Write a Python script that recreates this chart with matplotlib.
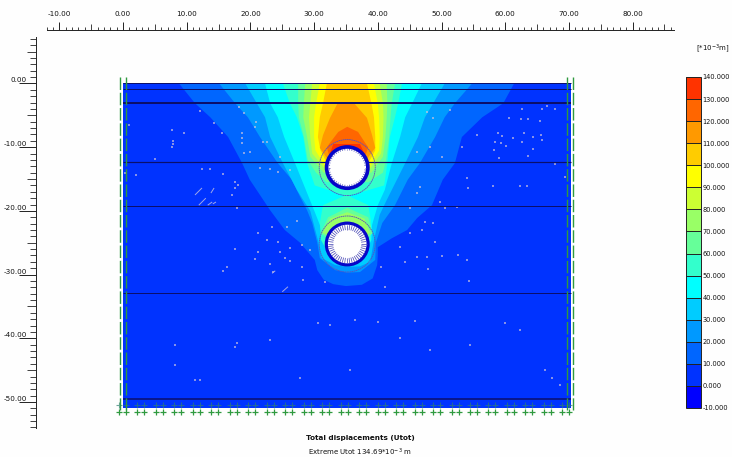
import matplotlib
matplotlib.use("Agg")
import matplotlib.pyplot as plt
from matplotlib.colors import ListedColormap, BoundaryNorm
from matplotlib.colorbar import ColorbarBase
from matplotlib.collections import LineCollection
from matplotlib.patches import Circle
import numpy as np

plt.rcParams['font.family'] = ['DejaVu Sans']
plt.rcParams['mathtext.default'] = 'regular'

# colour scale, bottom to top
LEVELS = [-10, 0, 10, 20, 30, 40, 50, 60, 70, 80, 90, 100, 110, 120, 130, 140]
BAND_COLORS = ['#0000ff', '#0033ff', '#0066ff', '#0099ff', '#00ccff', '#00ffff', '#33ffcc',
               '#66ff99', '#99ff66', '#ccff33', '#ffff00', '#ffcc00', '#ff9900', '#ff6600', '#ff3300']

# model extent and soil layer boundaries (m)
MODEL_X = [0.0, 70.3]
MODEL_Y = [0.0, -51.0]
LAYERS = [0.0, -0.9, -3.0, -12.4, -19.2, -32.9, -49.5]
LAYER_WIDTHS = [1.0, 1.0, 2.0, 1.2, 1.0, 1.0, 1.5]

# contour outlines of total displacement (x, y in m)
U10_X = [8.8, 11.3, 13.7, 16.5, 18.7, 19.9, 23.1, 25.4, 27.8, 30.1, 30.5, 31.5, 33.0, 35.0, 37.5, 39.2, 39.9, 40.0, 40.0, 42.2, 44.6, 46.2, 48.5, 50.2, 52.1, 53.2, 56.4, 59.7, 61.4]
U10_Y = [0, -3.1, -5.3, -8.4, -12.5, -15.1, -19.9, -23.0, -25.0, -27.7, -29.3, -30.8, -31.5, -31.8, -31.6, -30.6, -28.5, -27.0, -25.7, -24.3, -23.0, -21.1, -19.1, -15.1, -12.5, -8.4, -5.3, -3.1, 0]
U20_X = [15.1, 17.6, 19.6, 21.5, 24.3, 26.5, 27.8, 28.9, 29.7, 30.5, 30.9, 33.3, 35.2, 37.2, 39.6, 39.7, 40.7, 42.7, 44.7, 46.6, 49.0, 50.5, 52.1, 54.8]
U20_Y = [0, -3.1, -5.3, -8.4, -12.5, -15.1, -17.8, -19.9, -21.9, -25.0, -27.4, -29.3, -29.7, -29.6, -27.7, -25.0, -21.9, -19.1, -15.1, -12.5, -8.4, -5.3, -3.1, 0]
U30_X = [19.2, 21.0, 22.3, 23.1, 25.1, 27.3, 28.1, 29.4, 30.6, 31.2, 33.3, 35.2, 37.2, 38.8, 39.4, 40.3, 41.4, 42.2, 44.3, 46.3, 47.4, 48.7, 50.5]
U30_Y = [0, -3.1, -5.3, -8.4, -12.5, -16.7, -18.0, -20.0, -24.6, -27.4, -28.5, -28.8, -28.7, -28.0, -24.6, -20.6, -18.3, -16.7, -12.5, -8.4, -5.3, -3.1, 0]
U40_X = [22.3, 23.1, 24.3, 25.3, 27.0, 28.7, 30.0, 30.9, 31.9, 33.3, 35.2, 37.5, 39.0, 39.1, 40.0, 41.1, 42.2, 43.5, 44.3, 45.4, 46.9]
U40_Y = [0, -3.1, -5.3, -8.4, -12.5, -16.7, -19.9, -22.2, -26.1, -27.7, -28.2, -27.4, -24.6, -22.2, -19.1, -16.7, -12.5, -8.4, -5.3, -3.1, 0]

U50_LOW_X = [35.1, 31.4, 30.9, 31.1, 32.0, 35.1, 38.1, 38.9, 38.9, 38.5]
U50_LOW_Y = [-17.5, -19.1, -21.9, -24.6, -26.2, -26.8, -26.2, -24.6, -21.4, -19.1]
U60_LOW_X = [35.2, 32.2, 31.0, 32.5, 38.0, 39.2, 38.5]
U60_LOW_Y = [-19.5, -21.0, -23.5, -24.5, -24.5, -23.5, -21.0]
U70_LOW_X = [35.2, 32.5, 31.3, 32.5, 38.0, 38.8, 37.9]
U70_LOW_Y = [-20.2, -21.2, -23.4, -24.0, -24.0, -23.4, -21.2]

U50_X = [25.1, 26.2, 27.3, 28.3, 28.9, 30.1, 35.2, 41.0, 41.5, 41.9, 42.7, 43.2, 43.8]
U50_Y = [0, -3.1, -5.3, -8.4, -12.5, -16.0, -17.7, -16.0, -12.5, -8.4, -5.3, -3.1, 0]
U60_X = [27.5, 27.5, 27.6, 28.4, 29.0, 30.3, 32.0, 38.5, 40.8, 41.3, 41.8, 42.0, 42.2, 42.7]
U60_Y = [0, -3.1, -5.3, -8.4, -12.0, -14.0, -15.5, -15.5, -14.0, -12.0, -8.4, -5.3, -3.1, 0]
U70_X = [28.6, 28.4, 28.3, 28.9, 29.4, 31.5, 39.0, 40.8, 41.2, 41.4, 41.5, 41.4]
U70_Y = [0, -3.1, -5.3, -8.4, -11.5, -14.0, -14.0, -11.5, -8.4, -5.3, -3.1, 0]
U80_X = [29.7, 29.4, 29.2, 29.4, 29.7, 31.8, 38.7, 40.5, 40.8, 40.9, 40.8, 40.3]
U80_Y = [0, -3.1, -5.3, -8.4, -11.0, -13.5, -13.5, -11.0, -8.4, -5.3, -3.1, 0]
U90_X = [30.9, 30.3, 30.0, 30.0, 30.2, 31.9, 38.6, 40.2, 40.3, 40.2, 40.0, 39.4]
U90_Y = [0, -3.1, -5.3, -8.4, -10.5, -13.2, -13.2, -10.5, -8.4, -5.3, -3.1, 0]
U100_X = [32.0, 31.4, 30.9, 30.6, 31.0, 32.0, 38.5, 39.6, 39.6, 39.4, 39.0, 38.3]
U100_Y = [0, -3.1, -5.3, -8.4, -10.5, -12.5, -12.5, -10.5, -8.4, -5.3, -3.1, 0]
U110_X = [33.8, 32.5, 31.4, 30.9, 32.2, 38.2, 39.6, 39.1, 38.3, 36.1]
U110_Y = [-2.9, -5.4, -8.1, -10.1, -12.0, -12.0, -10.1, -8.1, -5.4, -2.9]
U120_X = [35.2, 33.8, 32.5, 32.0, 32.4, 38.0, 38.5, 38.0, 36.9]
U120_Y = [-6.8, -7.6, -9.3, -10.0, -11.5, -11.5, -10.0, -9.3, -7.6]
U130_X = [33.0, 32.5, 37.9, 37.2]
U130_Y = [-9.5, -11.0, -11.0, -9.5]

# (level, outline x, outline y) in drawing order
CONTOURS = [(10, U10_X, U10_Y), (20, U20_X, U20_Y), (30, U30_X, U30_Y), (40, U40_X, U40_Y),
            (50, U50_LOW_X, U50_LOW_Y), (60, U60_LOW_X, U60_LOW_Y), (70, U70_LOW_X, U70_LOW_Y),
            (50, U50_X, U50_Y), (60, U60_X, U60_Y), (70, U70_X, U70_Y), (80, U80_X, U80_Y),
            (90, U90_X, U90_Y), (100, U100_X, U100_Y), (110, U110_X, U110_Y),
            (120, U120_X, U120_Y), (130, U130_X, U130_Y)]

# tunnels: centre and radii (m)
TUNNEL_X = [35.2, 35.2]
TUNNEL_Y = [-13.2, -25.2]
R_OUTER = [4.4, 4.4]
R_LINING = [3.53, 3.53]
R_HATCH = [2.95, 3.03]
R_VOID = [2.72, 2.2]

# stress point specks (m)
SPECK_X = [7.7, 9.6, 7.8, 7.8, 7.7, 0.9, 5.0, 0.3, 2.0, 12.1, 14.3, 15.5, 18.2, 19.0, 20.9, 20.7, 18.7, 18.7, 18.7, 19.0,
           19.9, 22.0, 22.6, 21.5, 23.1, 24.3, 26.2, 12.4, 13.7, 15.7, 17.6, 18.1, 24.6,
           66.6, 67.8, 62.6, 65.8, 60.6, 62.5, 63.6, 65.5, 58.9, 59.5, 61.2, 63.0, 64.4, 65.6, 65.8, 58.4, 59.3, 62.6,
           60.1, 58.2, 64.4, 63.6, 59.0, 53.2, 55.6, 48.7, 51.3, 47.7, 46.2, 48.2, 50.1, 54.0, 58.1, 62.3, 63.4, 54.2,
           46.6, 69.4, 67.8,
           17.6, 17.1, 17.9, 21.2, 23.4, 22.6, 24.3, 26.2, 28.1, 29.4, 21.2, 24.6, 20.7, 23.1, 25.4, 26.2, 28.1, 16.3,
           15.7, 17.6, 27.3, 25.7, 23.5, 28.3, 31.7,
           46.2, 49.8, 50.5, 52.4, 45.1, 47.4, 48.7, 46.9, 45.1, 49.0, 43.5, 46.2, 47.7, 50.1, 52.6, 54.0, 47.9, 40.5,
           44.3, 54.3, 41.1,
           30.6, 32.5, 36.4, 40.0, 45.8, 60.0, 62.3, 17.9, 8.2, 23.1, 11.3, 66.2, 67.3, 68.6, 54.5, 48.2, 27.8, 35.6,
           8.2, 12.1, 43.5, 17.6]
SPECK_Y = [-7.3, -7.8, -9.0, -9.5, -10.0, -6.5, -11.9, -14.0, -14.4, -4.3, -6.2, -7.8, -3.7, -4.6, -6.0, -6.8, -7.8, -8.6, -9.3, -10.9,
           -10.8, -9.2, -9.2, -13.3, -13.4, -13.9, -13.6, -13.4, -13.4, -14.2, -15.5, -15.9, -11.5,
           -3.5, -4.0, -4.0, -4.0, -5.4, -5.6, -5.6, -5.9, -7.8, -8.2, -8.6, -7.8, -8.4, -8.1, -8.9, -9.2, -9.3, -9.2,
           -9.8, -10.4, -10.3, -11.4, -11.7, -10.0, -8.1, -5.4, -4.2, -4.5, -10.8, -10.0, -11.5, -14.8, -16.1, -16.1, -16.1, -16.4,
           -16.2, -14.7, -12.6,
           -16.4, -17.5, -19.5, -23.5, -22.5, -24.6, -24.9, -25.8, -25.4, -26.1, -26.5, -26.5, -27.6, -28.3, -27.4, -27.9, -28.8, -28.8,
           -29.4, -26.0, -21.6, -22.5, -29.6, -30.8, -31.2,
           -17.2, -18.6, -19.5, -19.4, -19.5, -21.7, -21.9, -23.0, -23.5, -24.9, -25.7, -27.2, -27.2, -27.1, -26.9, -27.7, -29.1, -28.8,
           -28.0, -31.0, -31.9,
           -37.6, -37.9, -37.1, -37.4, -37.3, -37.6, -38.7, -40.7, -41.0, -40.3, -46.5, -45.0, -46.2, -47.3, -41.0, -41.8, -46.2, -45.0,
           -44.2, -46.5, -40.0, -41.4]

# longer diagonal strokes: x0, y0, x1, y1 (m)
STROKE_X0 = [11.3, 13.8, 11.9, 13.3, 14.1, 25.0, 23.4]
STROKE_Y0 = [-17.5, -17.2, -19.1, -19.1, -18.9, -32.7, -29.8]
STROKE_X1 = [12.4, 14.3, 13.0, 14.0, 14.6, 25.9, 23.9]
STROKE_Y1 = [-16.4, -16.4, -18.0, -18.6, -18.6, -31.9, -29.4]

# rulers
X_MAJOR = [-10, 0, 10, 20, 30, 40, 50, 60, 70, 80]
Y_MAJOR = [0, -10, -20, -30, -40, -50]

# fixities along the base and sides
FIX_COLOR = '#2f9a3f'
N_FIX = 25

SCALE = 6.37  # pixels per metre
X0_PX, Y0_PX = 123.0, 83.5
W, H = 732, 457
TEXT_COLOR = '#111111'

fig = plt.figure(figsize=(W / 100, H / 100), dpi=100, facecolor='#fefefe')
ax = fig.add_axes([0, 0, 1, 1], facecolor='none')
ax.set_xlim(-X0_PX / SCALE, (W - X0_PX) / SCALE)
ax.set_ylim((Y0_PX - H) / SCALE, Y0_PX / SCALE)

# soil body and displacement bands
ax.fill_between(MODEL_X, MODEL_Y[1], MODEL_Y[0], color=BAND_COLORS[1], lw=0, zorder=1)
for level, xs, ys in CONTOURS:
    ax.fill(xs, ys, color=BAND_COLORS[LEVELS.index(level)], lw=0, zorder=2)

# specks
ax.scatter(SPECK_X, SPECK_Y, s=1.0, marker='s', color='#cfc4dc', alpha=0.65, lw=0, zorder=3)
strokes = [[(a, b), (c, d)] for a, b, c, d in zip(STROKE_X0, STROKE_Y0, STROKE_X1, STROKE_Y1)]
ax.add_collection(LineCollection(strokes, colors='#a0a8e8', linewidths=0.7, zorder=3))

# layer lines
for y, lw in zip(LAYERS, LAYER_WIDTHS):
    ax.plot(MODEL_X, [y, y], color='#0b0f6b', lw=lw * 0.72, solid_capstyle='butt', zorder=4)

# tunnels
for i in range(len(TUNNEL_X)):
    c = (TUNNEL_X[i], TUNNEL_Y[i])
    ax.add_patch(Circle(c, R_OUTER[i], fill=False, ec='#5a4fc0', lw=0.6, ls=(0, (2, 0.6)), zorder=5))
    ax.add_patch(Circle(c, R_LINING[i], fc='#0606c8', ec='none', zorder=6))
    ax.add_patch(Circle(c, R_HATCH[i], fc='#ffffff', ec='none', zorder=7))
    ang = np.deg2rad(np.arange(0, 360, 7.5))
    spokes = [[(c[0] + R_VOID[i] * np.cos(a), c[1] + R_VOID[i] * np.sin(a)),
               (c[0] + R_HATCH[i] * np.cos(a), c[1] + R_HATCH[i] * np.sin(a))] for a in ang]
    ax.add_collection(LineCollection(spokes, colors='#5050b8', linewidths=0.55, zorder=8))

# fixities
fix_step = 2.9
fix_x = [v for k in range(N_FIX) for v in (-0.63 + k * fix_step, 0.47 + k * fix_step)]
ax.plot(fix_x, [-50.4] * len(fix_x), ls='', marker='+', ms=4, mew=0.8, color='#2f7f70', alpha=0.7, zorder=5)
ax.plot(fix_x, [-51.5] * len(fix_x), ls='', marker='+', ms=4, mew=0.9, color=FIX_COLOR, zorder=5)
for x in (-0.47, 0.47, 69.7, 70.7):
    ax.plot([x, x], [1.0, -51.2], color=FIX_COLOR, lw=1.0, ls=(0, (9, 2)), zorder=5)

# rulers
for name in ('bottom', 'right'):
    ax.spines[name].set_visible(False)
ax.spines['top'].set_position(('data', (Y0_PX - 30) / SCALE))
ax.spines['left'].set_position(('data', (36 - X0_PX) / SCALE))
ax.spines['top'].set_bounds(-11.9, 86.5)
ax.spines['left'].set_bounds(-54.1, 7.3)
for s in ('top', 'left'):
    ax.spines[s].set_linewidth(0.7)
    ax.spines[s].set_color('#222222')

ax.xaxis.tick_top()
ax.set_xticks(X_MAJOR)
ax.set_xticklabels(['%.2f' % v for v in X_MAJOR], fontsize=5.2, color=TEXT_COLOR)
x_minor = np.arange(-12, 87)
ax.set_xticks(x_minor, minor=True)
ax.tick_params(axis='x', which='major', length=5.8, width=0.7, pad=3.2, color='#222222')
ax.tick_params(axis='x', which='minor', length=2.5, width=0.6, color='#222222')
for t, v in zip(ax.xaxis.get_minor_ticks(), ax.xaxis.get_minorticklocs()):
    if round(v) % 5 == 0:
        t.tick2line.set_markersize(4.3)

ax.set_yticks(Y_MAJOR)
ax.set_yticklabels(['%.2f' % v for v in Y_MAJOR], fontsize=5.2, color=TEXT_COLOR, va='bottom')
y_minor = np.arange(-54, 8)
ax.set_yticks(y_minor, minor=True)
ax.tick_params(axis='y', which='major', length=12.2, width=0.7, pad=-5.8, color='#222222')
ax.tick_params(axis='y', which='minor', length=4.3, width=0.6, color='#222222')
for t, v in zip(ax.yaxis.get_minor_ticks(), ax.yaxis.get_minorticklocs()):
    if round(v) % 5 == 0:
        t.tick1line.set_markersize(6.5)

# captions
fig.text(360 / W, 1 - 438 / H, 'Total displacements (Utot)', fontsize=5.2, fontweight='bold',
         ha='center', va='center', color=TEXT_COLOR)
fig.text(360 / W, 1 - 452 / H, 'Extreme Utot 134.69*10$^{-3}$ m', fontsize=5.0,
         ha='center', va='center', color=TEXT_COLOR)
fig.text(696 / W, 1 - 49 / H, '[*10$^{-3}$m]', fontsize=5.0, ha='left', va='center', color=TEXT_COLOR)

# legend bar
cax = fig.add_axes([685.5 / W, 1 - 408 / H, 15.5 / W, 331 / H])
cmap = ListedColormap(BAND_COLORS)
norm = BoundaryNorm(LEVELS, cmap.N)
cb = ColorbarBase(cax, cmap=cmap, norm=norm, ticks=LEVELS, spacing='proportional', drawedges=True)
cb.outline.set_linewidth(0.7)
cb.outline.set_edgecolor('#222222')
cb.dividers.set_color('#222222')
cb.dividers.set_linewidth(0.7)
cb.ax.tick_params(length=0, pad=1, labelsize=4.8, labelcolor=TEXT_COLOR)
cb.set_ticklabels(['%.3f' % v for v in LEVELS])

fig.savefig('out.png', dpi=100, facecolor=fig.get_facecolor())
